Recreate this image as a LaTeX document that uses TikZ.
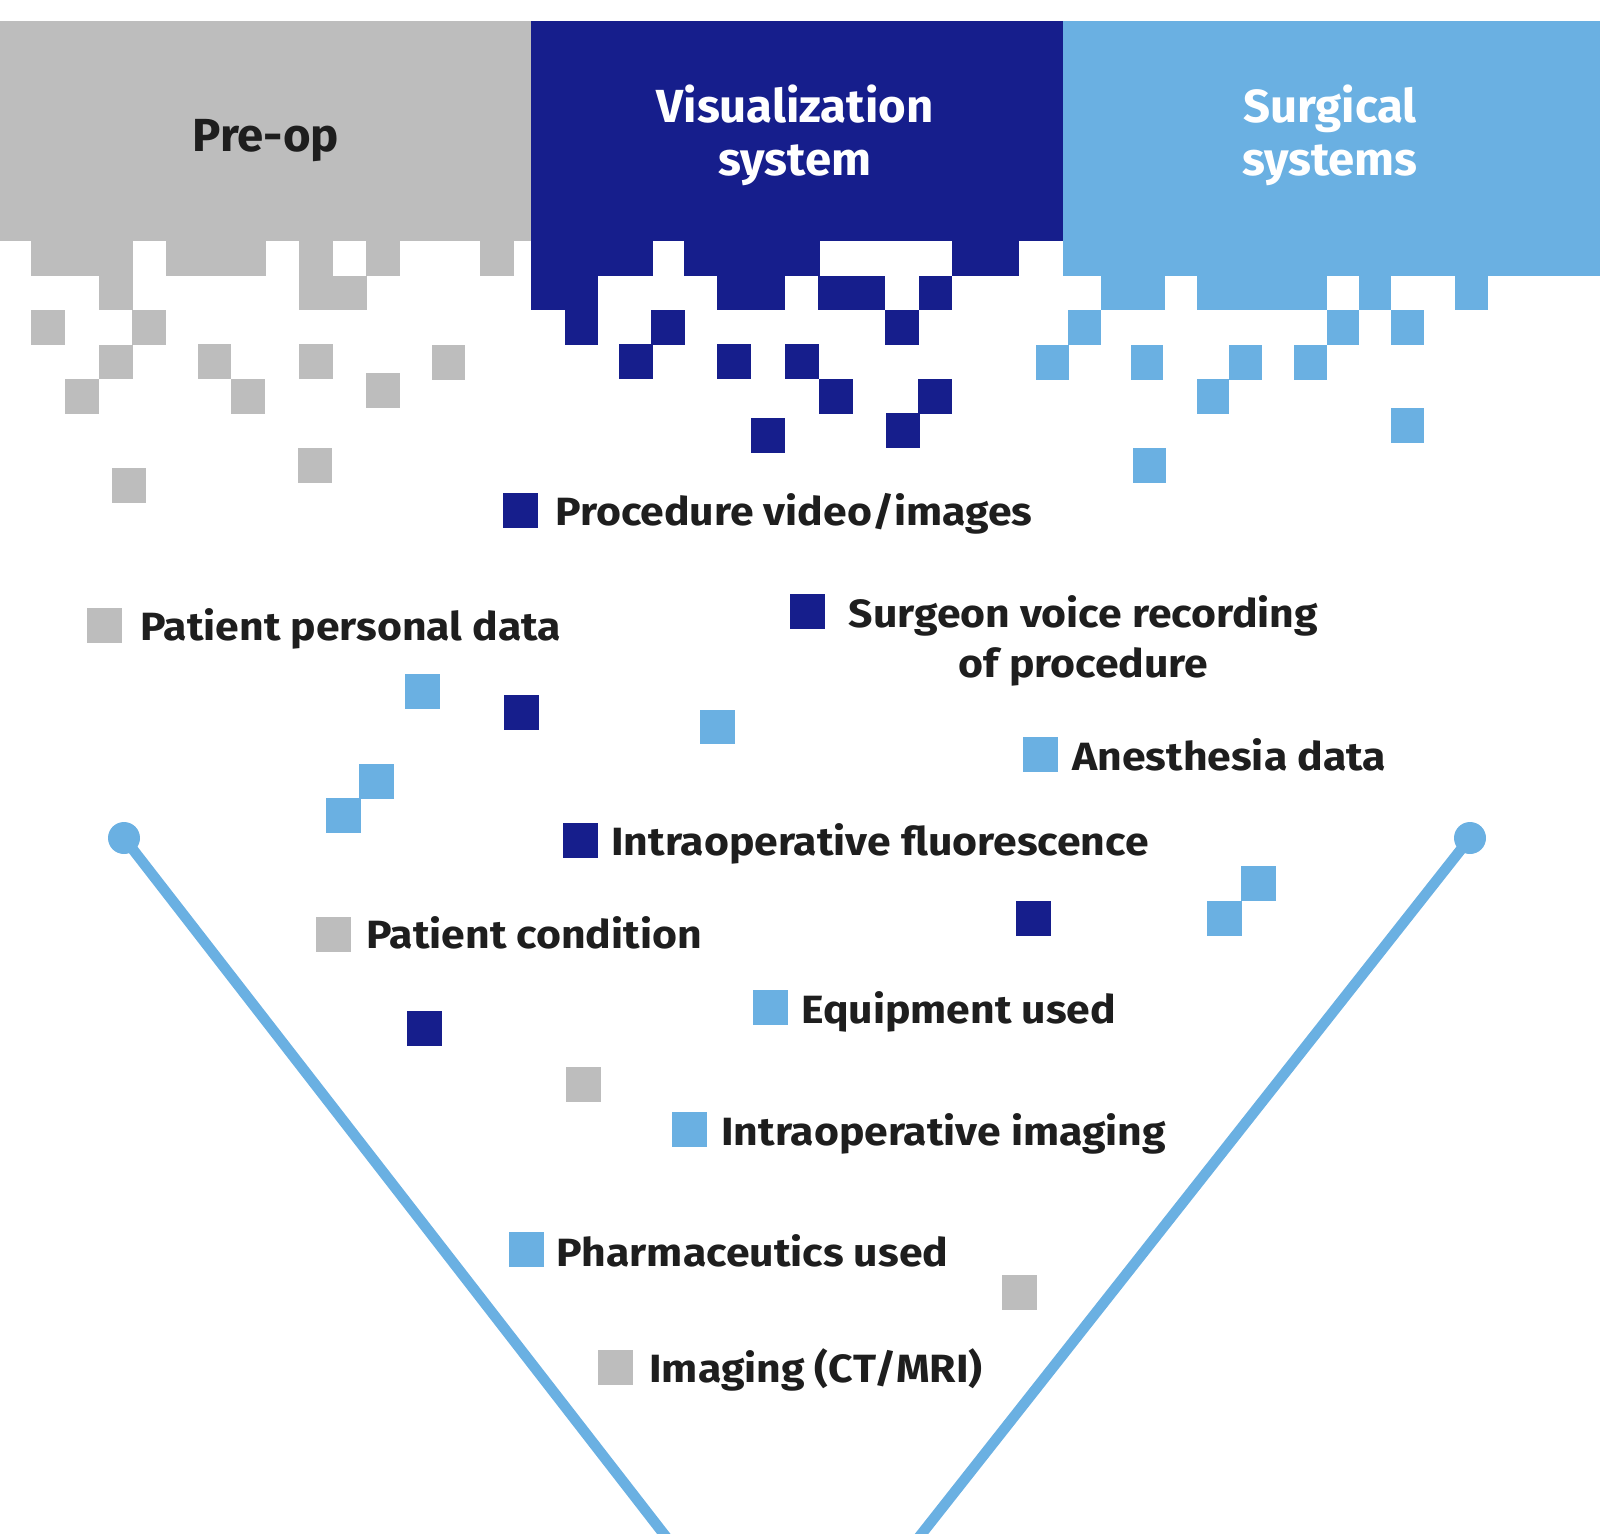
\documentclass[tikz,border=0pt]{standalone}
\usepackage{fontspec}
\setmainfont{Fira Sans}
\newfontfamily\labfont{Fira Sans}[FakeStretch=1.085]
\newfontfamily\ttlfont{Fira Sans}[FakeStretch=1.02]
\definecolor{pgray}{HTML}{BDBDBD}
\definecolor{dblue}{HTML}{161E8C}
\definecolor{lblue}{HTML}{6AB0E2}
\definecolor{txt}{HTML}{1E1E1E}
\begin{document}
\begin{tikzpicture}[x=0.5pt,y=-0.5pt,
  lab/.style={anchor=base west,inner sep=0pt,text=txt,font=\labfont\fontsize{19.7}{25}\selectfont\bfseries},
  ttl/.style={anchor=base,inner sep=0pt,align=center,font=\ttlfont\fontsize{23.2}{26.5}\selectfont\bfseries},
  sq/.style={inner sep=0pt,minimum size=17.5pt,draw=none},
  vline/.style={draw=lblue,line width=5.3pt},
  dot/.style={fill=lblue}]
\useasboundingbox (0,0) rectangle (1600,1533);
\begin{scope}
\clip (0,0) rectangle (1600,1533);
% ---------- bands ----------
\fill[pgray] (0,21) rectangle (532,241);
\fill[dblue] (531,21) rectangle (1064,241);
\fill[lblue] (1063,21) rectangle (1600,276);
% ---------- gray pixels ----------
\foreach \a/\b/\c/\d in {31/241/133/276,166/241/266/276,299/241/333/276,366/241/400/276,480/241/514/276,
  99/276/133/310,299/276/367/310,31/310/65/345,132/310/166/345,
  99/345/133/379,198/344/231/379,299/344/333/379,432/345/465/380,
  65/379/99/414,231/379/265/414,366/373/400/408,298/448/332/483,112/468/146/503,
  566/1067/601/1102,1002/1275/1037/1310}
  \fill[pgray] (\a,\b) rectangle (\c,\d);
% ---------- dark blue pixels ----------
\foreach \a/\b/\c/\d in {531/241/653/276,684/241/820/276,952/241/1019/276,
  531/276/598/310,717/276/785/310,818/276/885/310,919/276/952/310,
  565/310/598/345,651/310/685/345,885/310/919/345,
  619/344/653/379,717/344/751/379,785/344/819/379,
  819/379/853/414,918/379/952/414,751/418/785/453,886/413/920/448,
  504/695/539/730,1016/901/1051/936,407/1011/442/1046}
  \fill[dblue] (\a,\b) rectangle (\c,\d);
% ---------- light blue pixels ----------
\foreach \a/\b/\c/\d in {1101/276/1165/310,1197/276/1327/310,1359/276/1391/310,1455/276/1488/310,
  1068/310/1101/345,1327/310/1359/345,1391/310/1424/345,
  1036/345/1069/380,1131/345/1163/380,1229/345/1262/380,1294/345/1327/380,
  1197/379/1229/414,1391/408/1424/443,1133/448/1166/483,
  405/674/440/709,700/710/735/744,359/764/394/799,326/798/361/833,
  1241/866/1276/901,1207/901/1242/936}
  \fill[lblue] (\a,\b) rectangle (\c,\d);
% ---------- funnel lines ----------
\coordinate (la) at (124,838);
\coordinate (lb) at (684,1560);
\coordinate (ra) at (1470,838);
\coordinate (rb) at (901,1560);
\draw[vline] (la) -- (lb);
\draw[vline] (ra) -- (rb);
\fill[dot] (la) circle (8pt);
\fill[dot] (ra) circle (8pt);
\end{scope}
% ---------- titles ----------
\node[ttl,text=txt] (preop) at (266,151) {Pre-op};
\node[ttl,text=white] (vis) at (795,175.7) {Visualization\\system};
\node[ttl,text=white] (surg) at (1330,175.7) {Surgical\\systems};
% ---------- legend ----------
\node[sq,fill=dblue] (s1) at (520.5,510.5) {};
\node[lab] (t1) at (555,525) {Procedure video/images};
\node[sq,fill=pgray] (s2) at (104.5,625.5) {};
\node[lab] (t2) at (140,640) {Patient personal data};
\node[sq,fill=dblue] (s3) at (807.5,611.5) {};
\node[lab,anchor=base,align=center] (t3) at (1083.5,677) {Surgeon voice recording\\of procedure};
\node[sq,fill=lblue] (s4) at (1040.5,754.5) {};
\node[lab] (t4) at (1072,770) {Anesthesia data};
\node[sq,fill=dblue] (s5) at (580.5,840.5) {};
\node[lab] (t5) at (611,855) {Intraoperative fluorescence};
\node[sq,fill=pgray] (s6) at (333.5,934.5) {};
\node[lab] (t6) at (366,948) {Patient condition};
\node[sq,fill=lblue] (s7) at (770.5,1007.5) {};
\node[lab] (t7) at (801,1023) {Equipment used};
\node[sq,fill=lblue] (s8) at (689.5,1129.5) {};
\node[lab] (t8) at (721,1145) {Intraoperative imaging};
\node[sq,fill=lblue] (s9) at (526.5,1249.5) {};
\node[lab] (t9) at (556.5,1266) {Pharmaceutics used};
\node[sq,fill=pgray] (s10) at (615.5,1367.5) {};
\node[lab] (t10) at (649,1382) {Imaging (CT/MRI)};
\end{tikzpicture}
\end{document}
